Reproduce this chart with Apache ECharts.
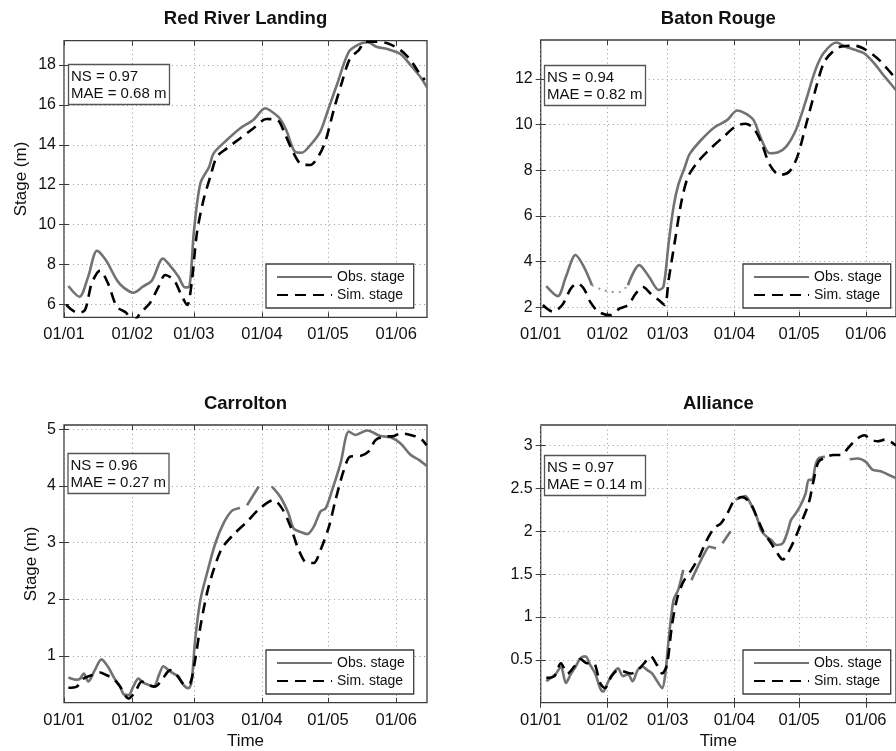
<!DOCTYPE html>
<html>
<head>
<meta charset="utf-8">
<title>Observed vs simulated stage</title>
<script src="https://cdn.jsdelivr.net/npm/echarts@6/dist/echarts.min.js"></script>
<style>
  html, body { margin: 0; padding: 0; background: #fff; }
  #wrap { width: 896px; height: 751px; }
</style>
</head>
<body>
<div id="wrap"></div>
<script>
// x values are days since 1 Jan 2011
var monthStarts = [0, 31, 59, 90, 120, 151];
var monthLabels = ['01/01', '01/02', '01/03', '01/04', '01/05', '01/06'];

var stations = ['Red River Landing', 'Baton Rouge', 'Carrolton', 'Alliance'];
var nsValues = ['0.97', '0.94', '0.96', '0.97'];
var maeValues = ['0.68', '0.82', '0.27', '0.14'];

var yTicks = [
  [6, 8, 10, 12, 14, 16, 18],
  [2, 4, 6, 8, 10, 12],
  [1, 2, 3, 4, 5],
  [0.5, 1, 1.5, 2, 2.5, 3]
];
var yMin = [5.35, 1.58, 0.176, 0];
var yMax = [19.22, 13.7, 5.076, 3.24];

// Red River Landing
var rrlObsDay = [2, 7, 11, 15, 19, 24, 27, 31.5, 36, 40, 45, 48, 52, 55, 57, 59, 62, 66, 68, 74, 80, 86, 91.5, 94.5, 98, 101, 105, 108, 112, 116.5, 120, 124, 129.5, 134, 138, 142, 147, 153, 157.5, 162, 165];
var rrlObs = [6.92, 6.38, 7.39, 8.69, 8.22, 7.22, 6.85, 6.58, 6.9, 7.2, 8.3, 7.97, 7.4, 6.85, 6.9, 9.6, 12.07, 12.9, 13.57, 14.24, 14.82, 15.24, 15.83, 15.66, 15.33, 14.74, 13.65, 13.6, 13.99, 14.66, 15.74, 17.0, 18.67, 19.04, 19.14, 18.92, 18.8, 18.55, 18.0, 17.4, 16.88];
var rrlSimDay = [1, 6, 9.5, 12.6, 16.4, 20, 24, 28, 31.5, 35, 39, 43, 46, 50, 53, 56, 58, 60.4, 63.4, 66.5, 69.5, 74, 80, 86, 92, 97, 100.6, 104.4, 108, 112, 116, 119, 122.6, 126.4, 130, 134, 137, 142, 147, 153, 157.5, 161, 164];
var rrlSim = [5.97, 5.58, 5.71, 7.05, 7.69, 7.05, 5.88, 5.6, 5.15, 5.6, 6.05, 6.89, 7.47, 7.22, 6.55, 5.97, 7.05, 9.56, 11.23, 12.4, 13.4, 13.82, 14.32, 14.82, 15.29, 15.24, 14.49, 13.57, 13.02, 12.99, 13.49, 14.24, 15.74, 17.16, 18.33, 18.75, 19.17, 19.17, 19.09, 18.75, 18.25, 17.67, 17.25];

// Baton Rouge
var brObsDay = [2.6, 7.9, 11.7, 16.2, 20, 23.8, 30, 40.5, 45.8, 50.3, 54.8, 57, 59.4, 61.7, 63.9, 67, 69.2, 74.5, 80.6, 86.7, 91.2, 95, 98.8, 102.6, 106.4, 110, 114, 118.5, 123, 127.6, 131.4, 137.4, 141, 145.8, 150, 154.8, 159, 161.5, 165];
var brObs = [2.92, 2.48, 3.33, 4.28, 3.77, 2.96, null, 2.96, 3.84, 3.33, 2.75, 2.89, 4.79, 6.4, 7.35, 8.15, 8.71, 9.32, 9.87, 10.2, 10.61, 10.49, 10.2, 9.32, 8.74, 8.77, 9.03, 9.76, 11.0, 12.39, 13.13, 13.59, 13.42, 13.27, 13.13, 12.69, 12.18, 11.9, 11.5];
// sparse observations inside the gap (drawn dotted)
var brGapDay = [23.8, 28, 32, 36.5, 40.5];
var brGap = [2.96, 2.78, 2.68, 2.66, 2.96];
var brSimDay = [1, 5.6, 10, 14, 17, 20, 23, 26.8, 32, 36.7, 40.5, 44.2, 47.3, 51, 54.8, 57.6, 59.4, 62.4, 65.5, 68.5, 73, 79, 85, 90.5, 95, 98.8, 102.6, 106.4, 111, 115.5, 119.2, 123, 127.6, 131.4, 135, 139.7, 145.8, 151, 156.3, 160, 165];
var brSim = [2.09, 1.8, 2.09, 2.82, 3.04, 2.82, 2.23, 1.8, 1.65, 1.94, 2.09, 2.6, 2.89, 2.6, 2.31, 2.09, 3.18, 4.94, 6.69, 7.72, 8.37, 8.96, 9.47, 9.91, 10.03, 9.84, 9.18, 8.23, 7.79, 7.94, 8.59, 9.91, 11.52, 12.69, 13.13, 13.42, 13.45, 13.27, 12.9, 12.54, 12.0];

// Carrolton
var cObsDay = [2, 5.8, 7.3, 9, 11, 14, 17, 20, 23, 25.5, 27, 29.3, 31.6, 33.8, 36, 38.4, 40.7, 43.4, 45.2, 47.5, 49.8, 52, 54.3, 56.6, 58, 59.6, 62, 65, 68.8, 72.5, 76.3, 80, 81.5, 83.2, 88.5, 91, 94.5, 98.3, 102, 104.4, 107.5, 110.5, 113.5, 116.6, 119, 121.9, 125.7, 129.5, 132.5, 137.8, 143.9, 148.4, 153, 157.5, 161.3, 165];
var cObs = [0.62, 0.58, 0.6, 0.69, 0.55, 0.75, 0.94, 0.81, 0.6, 0.46, 0.33, 0.31, 0.47, 0.6, 0.53, 0.49, 0.46, 0.69, 0.82, 0.75, 0.69, 0.64, 0.49, 0.43, 0.55, 1.28, 1.99, 2.46, 2.99, 3.34, 3.56, 3.61, null, 3.66, 3.99, null, 3.99, 3.81, 3.52, 3.25, 3.19, 3.15, 3.28, 3.55, 3.61, 3.93, 4.4, 4.96, 4.9, 4.98, 4.88, 4.86, 4.75, 4.55, 4.46, 4.35];
var cSimDay = [2, 5.8, 8.8, 12.6, 16.4, 19.4, 22.5, 25.5, 29.3, 32.4, 35.4, 38.4, 41.4, 44.5, 48.3, 51.3, 55, 57.4, 59.6, 62, 65, 68, 71.8, 77, 83.2, 89.2, 95.3, 99, 103, 106.7, 110.5, 113.5, 116.6, 120.4, 123.4, 127.2, 130.2, 134.7, 138.5, 141.6, 145.4, 150, 153, 157.5, 162, 164.8];
var cSim = [0.44, 0.46, 0.6, 0.66, 0.71, 0.66, 0.6, 0.46, 0.25, 0.37, 0.55, 0.49, 0.46, 0.58, 0.75, 0.66, 0.49, 0.52, 0.93, 1.52, 2.11, 2.52, 2.9, 3.14, 3.37, 3.61, 3.75, 3.61, 3.28, 2.87, 2.64, 2.64, 2.87, 3.28, 3.75, 4.28, 4.52, 4.53, 4.61, 4.81, 4.87, 4.88, 4.93, 4.9, 4.84, 4.72];

// Alliance
var aObsDay = [2.6, 4.8, 7.1, 9.4, 11.7, 13.9, 16.2, 18.5, 20.8, 23, 25.3, 27.6, 29, 31.4, 33.6, 35.9, 38.2, 40.5, 42.7, 45, 47.3, 49.5, 51.8, 54.1, 56.4, 57.9, 59.4, 61.7, 63.9, 66.2, 68, 70, 73, 76, 78.3, 81.4, 83, 84.4, 88.2, 89.5, 90.5, 92.7, 95, 97.3, 100.3, 102.6, 104.8, 107, 109.4, 112.4, 114.7, 116.2, 118.5, 120.8, 123, 124.5, 126, 127.6, 129, 132, 138, 143.5, 147.3, 151, 154, 157.9, 161.5, 165];
var aObs = [0.25, 0.29, 0.34, 0.42, 0.23, 0.33, 0.42, 0.52, 0.54, 0.44, 0.34, 0.17, 0.13, 0.25, 0.34, 0.4, 0.31, 0.33, 0.25, 0.38, 0.42, 0.38, 0.34, 0.25, 0.17, 0.34, 0.73, 1.2, 1.32, 1.55, null, 1.43, 1.59, 1.74, 1.82, 1.8, null, 1.86, 2.0, null, 2.37, 2.39, 2.41, 2.33, 2.17, 2.0, 1.94, 1.9, 1.84, 1.86, 2.0, 2.13, 2.21, 2.31, 2.44, 2.6, 2.6, 2.77, 2.85, 2.87, null, 2.84, 2.85, 2.81, 2.72, 2.7, 2.66, 2.62];
var aSimDay = [2.6, 6.4, 9.4, 12.4, 15.5, 18.5, 21.5, 24.5, 27.6, 29.8, 32.9, 36, 39, 42, 45, 48, 51, 54, 56.4, 58.6, 60.9, 63.2, 66.2, 70, 73.8, 76.8, 80.6, 83.6, 86.7, 89.7, 93.5, 97.3, 100.3, 103.3, 107, 110, 112.4, 115.5, 118.5, 121.5, 124.5, 126.8, 129, 132, 135.9, 139.7, 142.7, 146.5, 150.3, 153.3, 156.4, 160, 165];
var aSim = [0.29, 0.31, 0.46, 0.34, 0.42, 0.51, 0.46, 0.46, 0.23, 0.17, 0.31, 0.38, 0.36, 0.34, 0.38, 0.46, 0.54, 0.44, 0.34, 0.44, 0.89, 1.2, 1.41, 1.55, 1.71, 1.88, 2.04, 2.09, 2.21, 2.35, 2.4, 2.33, 2.17, 2.0, 1.86, 1.74, 1.67, 1.78, 1.94, 2.13, 2.33, 2.6, 2.81, 2.86, 2.89, 2.89, 2.97, 3.07, 3.12, 3.07, 3.05, 3.07, 3.0];

var obsDays = [rrlObsDay, brObsDay, cObsDay, aObsDay];
var obsVals = [rrlObs, brObs, cObs, aObs];
var simDays = [rrlSimDay, brSimDay, cSimDay, aSimDay];
var simVals = [rrlSim, brSim, cSim, aSim];

function pairs(days, vals) {
  return days.map(function (d, i) { return [d, vals[i]]; });
}

var font = '"Liberation Sans", Arial, Helvetica, sans-serif';
var axisColor = '#3c3c3c';
var obsColor = '#727272';
var gridDots = { color: '#999', width: 1, type: [1, 3.5] };

var grids = [
  { left: 64, top: 40.7, width: 363, height: 276.6 },
  { left: 540.7, top: 40, width: 363, height: 276.7 },
  { left: 64, top: 425, width: 363, height: 277.7 },
  { left: 540.7, top: 425, width: 363, height: 277.7 }
];
var legendPos = [[266, 264], [743, 264], [266, 650], [743, 650]];
var boxPos = [[68, 64], [544, 65], [67.5, 453], [544, 455]];

var xAxes = [], yAxes = [], series = [], legends = [], titles = [];

for (var i = 0; i < 4; i++) {
  grids[i].show = true;
  grids[i].borderColor = axisColor;
  grids[i].borderWidth = 1.3;

  // bottom axis
  xAxes.push({
    type: 'value', gridIndex: i, min: 0, max: 165, position: 'bottom',
    axisLine: { show: false },
    axisTick: { inside: true, length: 5, customValues: monthStarts, lineStyle: { color: axisColor } },
    axisLabel: {
      customValues: monthStarts, fontSize: 16.5, color: '#111', margin: 9, fontFamily: font,
      formatter: function (v) { return monthLabels[monthStarts.indexOf(v)]; }
    },
    splitLine: { show: true, lineStyle: gridDots },
    name: i >= 2 ? 'Time' : '', nameLocation: 'middle', nameGap: 30,
    nameTextStyle: { fontSize: 17, color: '#111', fontFamily: font }
  });
  // top axis: ticks + station title
  xAxes.push({
    type: 'value', gridIndex: i, min: 0, max: 165, position: 'top',
    axisLine: { show: false },
    axisTick: { inside: true, length: 5, customValues: monthStarts, lineStyle: { color: axisColor } },
    axisLabel: { show: false },
    splitLine: { show: false },
    name: stations[i], nameLocation: 'middle', nameGap: 12,
    nameTextStyle: { fontSize: 18.5, fontWeight: 'bold', color: '#111', fontFamily: font }
  });
  yAxes.push({
    type: 'value', gridIndex: i, min: yMin[i], max: yMax[i], position: 'left',
    axisLine: { show: false },
    axisTick: { inside: true, length: 5, customValues: yTicks[i], lineStyle: { color: axisColor } },
    axisLabel: { customValues: yTicks[i], fontSize: 16, color: '#111', margin: 8, fontFamily: font },
    splitLine: { show: true, lineStyle: gridDots },
    name: i % 2 === 0 ? 'Stage (m)' : '', nameLocation: 'middle', nameGap: i === 0 ? 34 : 24,
    nameTextStyle: { fontSize: 17, color: '#111', fontFamily: font }
  });
  yAxes.push({
    type: 'value', gridIndex: i, min: yMin[i], max: yMax[i], position: 'right',
    axisLine: { show: false },
    axisTick: { inside: true, length: 5, customValues: yTicks[i], lineStyle: { color: axisColor } },
    axisLabel: { show: false },
    splitLine: { show: false }
  });

  series.push({
    type: 'line', name: 'Obs. stage', xAxisIndex: i * 2, yAxisIndex: i * 2,
    data: pairs(obsDays[i], obsVals[i]),
    symbol: 'none', smooth: 0.3, connectNulls: false,
    lineStyle: { color: obsColor, width: 2.6 }, itemStyle: { color: obsColor }
  });
  if (i === 1) {
    series.push({
      type: 'line', name: 'Obs. stage', xAxisIndex: 2, yAxisIndex: 2,
      data: pairs(brGapDay, brGap),
      symbol: 'none', smooth: 0.3,
      lineStyle: { color: '#9a9a9a', width: 2, type: [2, 5] }, itemStyle: { color: '#9a9a9a' }
    });
  }
  series.push({
    type: 'line', name: 'Sim. stage', xAxisIndex: i * 2, yAxisIndex: i * 2,
    data: pairs(simDays[i], simVals[i]),
    symbol: 'none', smooth: 0.3,
    lineStyle: { color: '#000', width: 2.6, type: [11, 7] }, itemStyle: { color: '#000' }
  });

  legends.push({
    orient: 'vertical', left: legendPos[i][0], top: legendPos[i][1],
    itemWidth: 55, itemHeight: 14, itemGap: 4,
    padding: [6, 9, 6, 10],
    borderColor: axisColor, borderWidth: 1.3, backgroundColor: '#fff',
    selectedMode: false,
    itemStyle: { opacity: 0 },
    textStyle: { fontSize: 14, color: '#111', fontFamily: font },
    data: ['Obs. stage', 'Sim. stage']
  });

  titles.push({
    text: 'NS = ' + nsValues[i] + '\nMAE = ' + maeValues[i] + ' m',
    left: boxPos[i][0], top: boxPos[i][1],
    padding: [4, 3, 3, 3],
    borderColor: '#555', borderWidth: 1.3, backgroundColor: '#fff',
    textStyle: { fontSize: 15, fontWeight: 'normal', color: '#111', lineHeight: 17, fontFamily: font }
  });
}

var chart = echarts.init(document.getElementById('wrap'));
chart.setOption({
  backgroundColor: '#fff',
  animation: false,
  title: titles,
  legend: legends,
  grid: grids,
  xAxis: xAxes,
  yAxis: yAxes,
  series: series
});
</script>
</body>
</html>
